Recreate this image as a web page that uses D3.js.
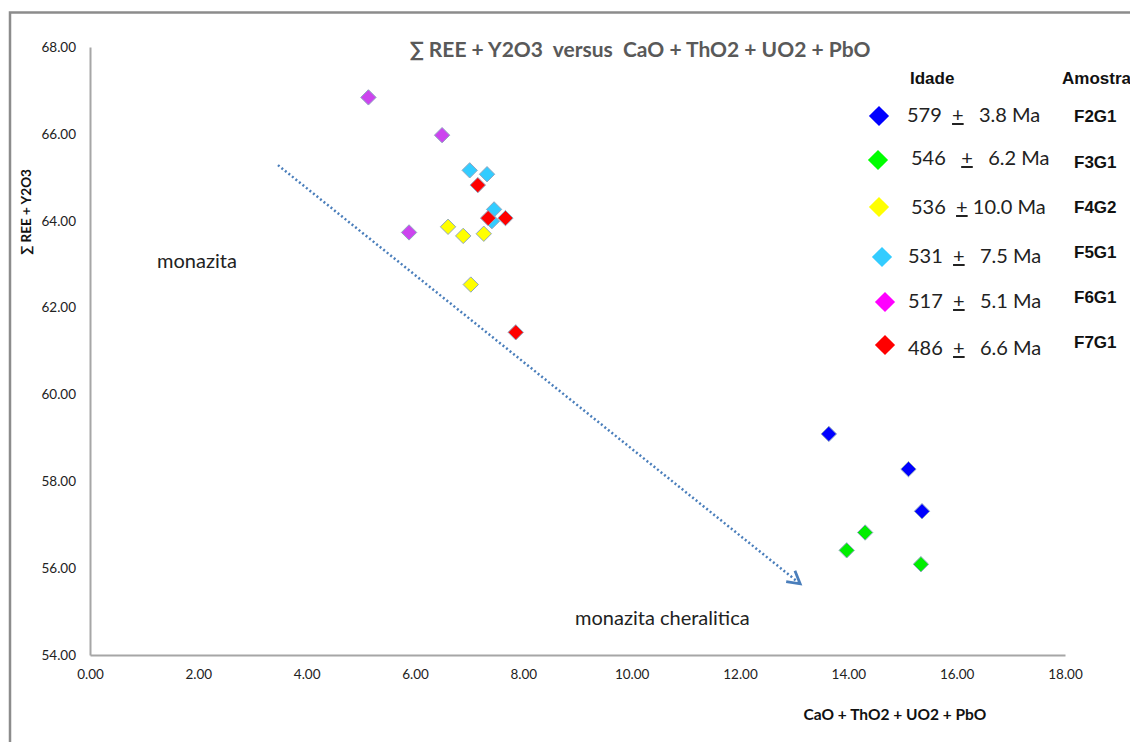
<!DOCTYPE html>
<html>
<head>
<meta charset="utf-8">
<script src="https://cdn.jsdelivr.net/npm/d3@7"></script>
<style>
  body { margin: 0; background: #fff; }
  text { font-family: Lato, "Open Sans", sans-serif; }
</style>
</head>
<body>
<div id="chart"></div>
<script>
// data
var series = ["F2G1", "F3G1", "F4G2", "F5G1", "F6G1", "F7G1"];
var ages = ["579", "546", "536", "531", "517", "486"];
var errors = ["3.8", "6.2", "10.0", "7.5", "5.1", "6.6"];
var colors = ["#0000ff", "#00ee00", "#ffff00", "#33ccff", "#cc44ee", "#ff0000"];
var legendColors = ["#0000ff", "#00ff00", "#ffff00", "#33ccff", "#ff00ff", "#ff0000"];

var xF2G1 = [13.64, 15.11, 15.36], yF2G1 = [59.09, 58.28, 57.31];
var xF3G1 = [14.31, 13.97, 15.34], yF3G1 = [56.82, 56.41, 56.09];
var xF4G2 = [6.61, 6.89, 7.27, 7.03], yF4G2 = [63.86, 63.65, 63.70, 62.53];
var xF6G1 = [5.14, 6.50, 5.89], yF6G1 = [66.84, 65.97, 63.73];
var xF7G1 = [7.35, 7.16, 7.67, 7.86], yF7G1 = [64.06, 64.82, 64.06, 61.43];
var xF5G1 = [7.01, 7.33, 7.46, 7.42], yF5G1 = [65.16, 65.07, 64.26, 63.99];

var xTicks = [0, 2, 4, 6, 8, 10, 12, 14, 16, 18];
var yTicks = [54, 56, 58, 60, 62, 64, 66, 68];
var arrowFrom = [3.47, 65.28], arrowTo = [13.11, 55.64];

var width = 1130, height = 742;
var margin = { top: 47, left: 90, right: 65, bottom: 87 };

const svg = d3.select("#chart").append("svg")
    .attr("width", width)
    .attr("height", height);

// outer chart frame
svg.append("rect")
    .attr("x", 10).attr("y", 12.5)
    .attr("width", 1200).attr("height", 800)
    .attr("fill", "#fff")
    .attr("stroke", "#8c8c8c")
    .attr("stroke-width", 2.5);

const x = d3.scaleLinear().domain([0, 18]).range([margin.left, width - margin.right]);
const y = d3.scaleLinear().domain([54, 68]).range([height - margin.bottom, margin.top]);

// axes
svg.append("g")
    .attr("transform", "translate(0," + y(54) + ")")
    .call(d3.axisBottom(x).tickValues(xTicks).tickSize(0).tickPadding(14).tickFormat(d3.format(".2f")))
    .call(g => g.select(".domain").attr("stroke", "#a6a6a6").attr("stroke-width", 2))
    .call(g => g.selectAll("text").attr("font-size", 13.5).attr("fill", "#222")
        .style("font-family", "Lato, sans-serif"));

svg.append("g")
    .attr("transform", "translate(" + x(0) + ",0)")
    .call(d3.axisLeft(y).tickValues(yTicks).tickSize(0).tickPadding(14).tickFormat(d3.format(".2f")))
    .call(g => g.select(".domain").attr("stroke", "#a6a6a6").attr("stroke-width", 2))
    .call(g => g.selectAll("text").attr("font-size", 13.5).attr("fill", "#222")
        .style("font-family", "Lato, sans-serif"));

// axis titles
svg.append("text")
    .attr("x", 895).attr("y", 720)
    .attr("text-anchor", "middle")
    .attr("font-size", 15.5).attr("font-weight", "bold").attr("fill", "#111")
    .text("CaO + ThO2 + UO2 + PbO");

svg.append("text")
    .attr("transform", "translate(31,212) rotate(-90)")
    .attr("text-anchor", "middle")
    .attr("font-size", 13.5).attr("font-weight", "bold").attr("fill", "#111")
    .text("∑ REE + Y2O3");

// title
svg.append("text")
    .attr("x", 640).attr("y", 57)
    .attr("text-anchor", "middle")
    .attr("font-size", 21).attr("font-weight", "bold").attr("fill", "#595959")
    .attr("xml:space", "preserve")
    .text("∑ REE + Y2O3  versus  CaO + ThO2 + UO2 + PbO");

// dotted arrow
svg.append("defs").append("marker")
    .attr("id", "arrow")
    .attr("viewBox", "0 0 10 10")
    .attr("refX", 8).attr("refY", 5)
    .attr("markerWidth", 7).attr("markerHeight", 7)
    .attr("orient", "auto")
    .append("path")
    .attr("d", "M1,1 L8,5 L1,9")
    .attr("fill", "none")
    .attr("stroke", "#4a7ebb")
    .attr("stroke-width", 1.6);

svg.append("line")
    .attr("x1", x(arrowFrom[0])).attr("y1", y(arrowFrom[1]))
    .attr("x2", x(arrowTo[0])).attr("y2", y(arrowTo[1]))
    .attr("stroke", "#4a7ebb")
    .attr("stroke-width", 2.5)
    .attr("stroke-dasharray", "2 2.5")
    .attr("marker-end", "url(#arrow)");

// field labels
svg.append("text").attr("x", 157).attr("y", 268)
    .attr("font-size", 20).attr("fill", "#222").text("monazita");
svg.append("text").attr("x", 575).attr("y", 625)
    .attr("font-size", 20).attr("fill", "#222")
    .text("monazita cheralitica");

// points
var xs = [xF2G1, xF3G1, xF4G2, xF5G1, xF6G1, xF7G1];
var ys = [yF2G1, yF3G1, yF4G2, yF5G1, yF6G1, yF7G1];
var diamond = d3.symbol().type(d3.symbolDiamond2).size(150);

var groups = svg.selectAll("g.serie")
    .data(series)
    .enter().append("g")
    .attr("class", "serie")
    .attr("fill", (d, i) => colors[i]);

groups.selectAll("path")
    .data((d, i) => xs[i].map((v, j) => [v, ys[i][j]]))
    .enter().append("path")
    .attr("d", diamond)
    .attr("transform", d => "translate(" + x(d[0]) + "," + y(d[1]) + ")")
    .attr("stroke", "#8ea6c0")
    .attr("stroke-width", 1);

// legend
svg.append("text").attr("x", 910).attr("y", 84)
    .attr("font-size", 17).attr("font-weight", "bold").attr("fill", "#111")
    .style("font-family", "'Liberation Sans', Arial, sans-serif").text("Idade");
svg.append("text").attr("x", 1062).attr("y", 84)
    .attr("font-size", 17).attr("font-weight", "bold").attr("fill", "#111")
    .style("font-family", "'Liberation Sans', Arial, sans-serif").text("Amostra");

var markerX = [879, 878, 879, 882, 885, 885];
var markerY = [116, 160, 207, 257, 302, 345];
var textX = [907, 911, 911, 908, 908, 908];
var textBase = [122, 165, 214, 263, 308, 355];
var sampleBase = [122, 168, 213, 258, 303, 348];
var legendDiamond = d3.symbol().type(d3.symbolDiamond2).size(260);

for (let i = 0; i < series.length; i++) {
    svg.append("path")
        .attr("d", legendDiamond)
        .attr("transform", "translate(" + markerX[i] + "," + markerY[i] + ")")
        .attr("fill", legendColors[i]);

    var t = svg.append("text")
        .attr("x", textX[i]).attr("y", textBase[i])
        .attr("font-size", 20).attr("fill", "#222")
        .attr("xml:space", "preserve");
    t.append("tspan").text(ages[i] + (i == 1 ? "   " : "  "));
    t.append("tspan").attr("text-decoration", "underline").text("+");
    t.append("tspan").text((errors[i].length > 3 ? " " : "   ") + errors[i] + " Ma");

    svg.append("text")
        .attr("x", 1074).attr("y", sampleBase[i])
        .attr("font-size", 17).attr("font-weight", "bold").attr("fill", "#111")
        .style("font-family", "'Liberation Sans', Arial, sans-serif")
        .text(series[i]);
}
</script>
</body>
</html>
